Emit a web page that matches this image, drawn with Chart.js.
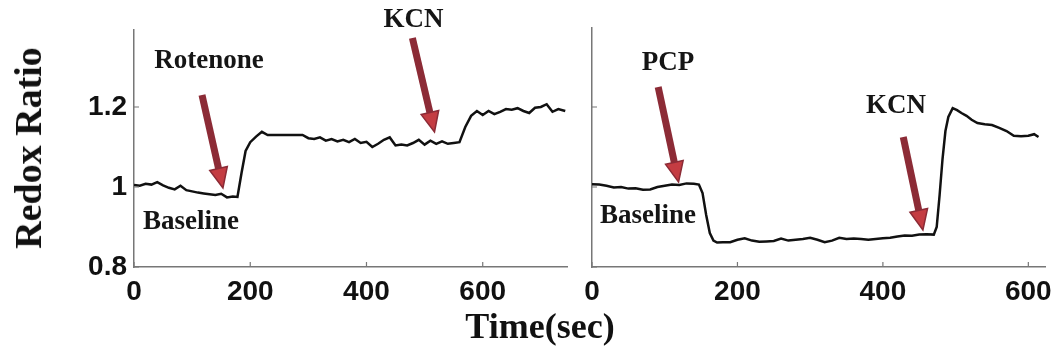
<!DOCTYPE html>
<html>
<head>
<meta charset="utf-8">
<script src="https://cdn.jsdelivr.net/npm/chart.js@4"></script>
<style>
  body { margin: 0; background: #fff; }
  #wrap { position: relative; width: 1060px; height: 354px; overflow: hidden; }
  canvas { position: absolute; top: 0; }
  #leftBox { left: 0; }
  #rightBox { left: 575px; }
  .title { position: absolute; font-family: "Liberation Serif", serif; font-weight: bold; color: #111; line-height: 1; white-space: nowrap; }
  #xTitle { left: 540px; top: 308px; font-size: 36px; transform: translateX(-50%); }
  #yTitle { left: 28px; top: 148px; font-size: 38px; transform: translate(-50%, -50%) rotate(-90deg); }
</style>
</head>
<body>
<div id="wrap">
  <div id="leftBox" style="position:absolute;top:0;width:580px;height:354px"><canvas id="leftChart"></canvas></div>
  <div id="rightBox" style="position:absolute;top:0;width:485px;height:354px"><canvas id="rightChart"></canvas></div>
  <div class="title" id="xTitle">Time(sec)</div>
  <div class="title" id="yTitle">Redox Ratio</div>
</div>
<script>
(function () {
    // --- Data ---
    const leftTime = [0, 10, 20, 30, 40, 50, 60, 70, 80, 90, 100, 110, 120, 130, 140, 150, 160, 170,
        178, 185, 192,
        200, 210, 220, 230, 240, 250, 260, 270, 280, 290, 300, 310, 320, 330, 340, 350, 360, 370, 380, 390,
        400, 410, 420, 430, 440, 450, 460, 470, 480, 490, 500, 510, 520, 530, 540, 550, 560, 570, 580, 590,
        600, 610, 620, 630, 640, 650, 660, 670, 680, 690, 700, 710, 720, 730, 742];
    const leftRatio = [1.005, 1.003, 1.008, 1.006, 1.012, 1.004, 0.998, 0.994, 1.003, 0.992, 0.989, 0.986, 0.984, 0.982, 0.980, 0.983, 0.974, 0.976,
        0.975, 1.035, 1.090,
        1.112, 1.126, 1.138, 1.130, 1.130, 1.130, 1.130, 1.130, 1.130, 1.130, 1.122, 1.120, 1.124, 1.116, 1.120, 1.114, 1.118, 1.112, 1.120, 1.110,
        1.113, 1.100, 1.108, 1.118, 1.124, 1.104, 1.106, 1.104, 1.110, 1.118, 1.106, 1.116, 1.108, 1.114, 1.108, 1.110, 1.112, 1.150, 1.178, 1.190,
        1.180, 1.190, 1.182, 1.188, 1.195, 1.193, 1.197, 1.190, 1.185, 1.198, 1.200, 1.207, 1.188, 1.195, 1.190];

    const rightTime = [0, 10, 20, 30, 40, 50, 60, 70, 80, 90, 100, 110, 120, 130, 140,
        147, 152, 157, 162, 167, 172,
        180, 190, 200, 210, 220, 230, 240, 250, 260, 270, 280, 290, 300, 310, 320, 330, 340, 350, 360, 370,
        380, 390, 400, 410, 420, 430, 440, 450, 460, 470,
        474, 478, 482, 486, 490, 496, 502, 508, 515, 522,
        530, 540, 550, 560, 570, 580, 590, 600, 608, 614];
    const rightRatio = [1.007, 1.006, 1.003, 0.999, 1.000, 0.996, 0.997, 0.993, 0.994, 1.000, 1.003, 1.006, 1.005, 1.009, 1.008,
        1.006, 0.985, 0.930, 0.885, 0.866, 0.861,
        0.862, 0.862, 0.868, 0.872, 0.866, 0.863, 0.864, 0.865, 0.871, 0.866, 0.868, 0.870, 0.873, 0.868, 0.862, 0.866, 0.873, 0.870, 0.871, 0.870,
        0.868, 0.870, 0.872, 0.873, 0.876, 0.879, 0.878, 0.881, 0.882, 0.881,
        0.900, 0.980, 1.070, 1.140, 1.175, 1.197, 1.192, 1.185, 1.178, 1.168,
        1.160, 1.157, 1.155, 1.148, 1.140, 1.128, 1.127, 1.128, 1.132, 1.125];

    const yTicks = [0.8, 1, 1.2];
    const xTicks = [0, 200, 400, 600];

    // annotations: text and arrows, in data units
    const leftNotes = [
        { text: 'Rotenone', x: 129, y: 1.315 },
        { text: 'KCN', x: 481, y: 1.4165 },
        { text: 'Baseline', x: 98, y: 0.9125 }
    ];
    const leftArrows = [
        { from: [117, 1.23], to: [153, 0.9975] },
        { from: [479, 1.3725], to: [517, 1.1375] }
    ];
    const rightNotes = [
        { text: 'PCP', x: 104.5, y: 1.311 },
        { text: 'KCN', x: 418, y: 1.2025 },
        { text: 'Baseline', x: 77, y: 0.9275 }
    ];
    const rightArrows = [
        { from: [91, 1.25], to: [119, 1.0125] },
        { from: [428, 1.125], to: [455, 0.8925] }
    ];

    // --- Helpers ---
    function toPoints(xs, ys) {
        return xs.map((x, i) => ({ x: x, y: ys[i] }));
    }

    const AXIS_COLOR = '#777';
    const TICK_FONT = { family: "'Liberation Sans', Arial, sans-serif", size: 28, weight: 'bold' };

    // MATLAB style ticks pointing into the plot
    const innerTicks = {
        id: 'innerTicks',
        afterDraw(chart) {
            const ctx = chart.ctx, area = chart.chartArea;
            const xs = chart.scales.x, ys = chart.scales.y;
            ctx.save();
            ctx.strokeStyle = AXIS_COLOR;
            ctx.lineWidth = 1.2;
            ctx.beginPath();
            xs.ticks.forEach(t => {
                const px = xs.getPixelForValue(t.value);
                ctx.moveTo(px, area.bottom);
                ctx.lineTo(px, area.bottom - 5);
            });
            ys.ticks.forEach(t => {
                const py = ys.getPixelForValue(t.value);
                ctx.moveTo(area.left, py);
                ctx.lineTo(area.left + 5, py);
            });
            ctx.stroke();
            ctx.restore();
        }
    };

    const notesPlugin = {
        id: 'notes',
        afterDatasetsDraw(chart, args, opts) {
            const ctx = chart.ctx;
            const xs = chart.scales.x, ys = chart.scales.y;
            ctx.save();
            (opts.arrows || []).forEach(a => {
                const x1 = xs.getPixelForValue(a.from[0]), y1 = ys.getPixelForValue(a.from[1]);
                const x2 = xs.getPixelForValue(a.to[0]), y2 = ys.getPixelForValue(a.to[1]);
                const ang = Math.atan2(y2 - y1, x2 - x1);
                const headLen = 20, headHalf = 9;
                const bx = x2 - headLen * Math.cos(ang), by = y2 - headLen * Math.sin(ang);
                ctx.strokeStyle = '#8c2b36';
                ctx.lineWidth = 7;
                ctx.lineCap = 'butt';
                ctx.beginPath();
                ctx.moveTo(x1, y1);
                ctx.lineTo(bx, by);
                ctx.stroke();
                ctx.beginPath();
                ctx.moveTo(x2, y2);
                ctx.lineTo(bx + headHalf * Math.sin(ang), by - headHalf * Math.cos(ang));
                ctx.lineTo(bx - headHalf * Math.sin(ang), by + headHalf * Math.cos(ang));
                ctx.closePath();
                ctx.fillStyle = '#c43c42';
                ctx.fill();
                ctx.lineWidth = 1.5;
                ctx.strokeStyle = '#8c2b36';
                ctx.stroke();
            });
            ctx.font = "bold 27px 'Liberation Serif', serif";
            ctx.fillStyle = '#151515';
            ctx.textAlign = 'center';
            ctx.textBaseline = 'middle';
            (opts.labels || []).forEach(n => {
                ctx.fillText(n.text, xs.getPixelForValue(n.x), ys.getPixelForValue(n.y));
            });
            ctx.restore();
        }
    };

    function makeChart(canvasId, xs, ys, cfg) {
        const ctx = document.getElementById(canvasId).getContext('2d');
        return new Chart(ctx, {
            type: 'line',
            data: {
                datasets: [{
                    data: toPoints(xs, ys),
                    borderColor: '#111',
                    borderWidth: 2.5,
                    pointRadius: 0,
                    tension: 0,
                    fill: false
                }]
            },
            options: {
                responsive: true,
                maintainAspectRatio: false,
                animation: false,
                layout: { padding: cfg.padding },
                plugins: {
                    legend: { display: false },
                    tooltip: { enabled: false },
                    notes: { labels: cfg.notes, arrows: cfg.arrows }
                },
                scales: {
                    x: {
                        type: 'linear',
                        min: 0,
                        max: cfg.xMax,
                        grid: { display: false, drawTicks: false },
                        border: { display: true, color: AXIS_COLOR, width: 1.5 },
                        afterBuildTicks: s => { s.ticks = xTicks.map(v => ({ value: v })); },
                        afterFit: s => { s.height = 87; },
                        ticks: { color: '#111', font: TICK_FONT, padding: 8, maxRotation: 0, callback: v => String(v) }
                    },
                    y: {
                        type: 'linear',
                        min: 0.8,
                        max: cfg.yMax,
                        grid: { display: false, drawTicks: false },
                        border: { display: true, color: AXIS_COLOR, width: 1.5 },
                        afterBuildTicks: s => { s.ticks = yTicks.map(v => ({ value: v })); },
                        afterFit: s => { s.width = cfg.yWidth; },
                        ticks: { display: cfg.yLabels, color: '#111', font: TICK_FONT, padding: 7, callback: v => String(v) }
                    }
                }
            },
            plugins: [innerTicks, notesPlugin]
        });
    }

    // --- Main ---
    makeChart('leftChart', leftTime, leftRatio, {
        padding: { top: 30, right: 13, left: 0, bottom: 0 },
        xMax: 745, yMax: 1.3925, yWidth: 134, yLabels: true,
        notes: leftNotes, arrows: leftArrows
    });
    makeChart('rightChart', rightTime, rightRatio, {
        padding: { top: 28, right: 8, left: 0, bottom: 0 },
        xMax: 624, yMax: 1.3975, yWidth: 17, yLabels: false,
        notes: rightNotes, arrows: rightArrows
    });
})();
</script>
</body>
</html>
